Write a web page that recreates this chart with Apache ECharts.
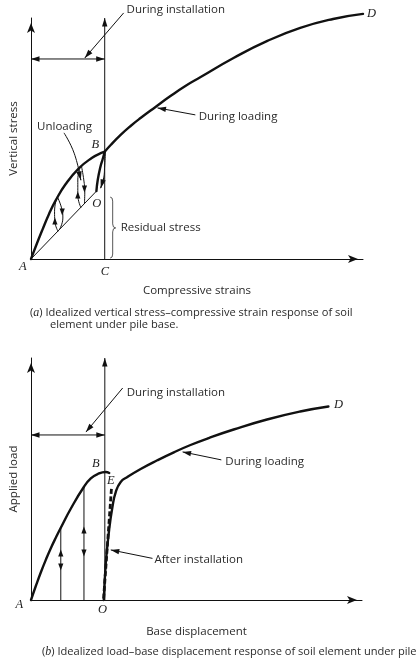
<!DOCTYPE html>
<html>
<head>
<meta charset="utf-8">
<script src="https://cdn.jsdelivr.net/npm/echarts/dist/echarts.min.js"></script>
<style>
  html, body { margin: 0; padding: 0; background: #fff; }
  #chart { width: 416px; height: 663px; }
</style>
</head>
<body>
<div id="chart"></div>
<script>
// ---------- (a) vertical stress vs. compressive strain (strain, stress) ----------
const aInstallCurve = [[0, 0], [1.4, 5.1], [3.4, 12.0], [5.4, 18.6], [7.4, 24.2], [10.4, 31.0],
  [14.4, 37.6], [18.3, 41.9], [21.0, 43.9], [22.2, 44.5]];
const aLoadingCurve = [[22.2, 44.5], [24.0, 47.3], [27.0, 51.5], [30.0, 55.2], [33.0, 58.5], [37.5, 63.1],
  [42.0, 67.6], [46.5, 71.8], [51.1, 75.5], [61.0, 83.4], [71.2, 90.5], [81.1, 95.9], [91.0, 99.6], [100, 101.7]];
const aReloadFromO = [[19.7, 28.2], [20.1, 32.8], [20.9, 38.2], [21.6, 41.5], [22.2, 44.5]];
const aUnloadToO = [[22.4, 44.0], [22.2, 39.0], [21.9, 33.6], [21.0, 29.5]];
const aResidualLine = [[0, 0], [19.6, 28.0]];
const aLoopPaths = [
  [[7.6, 24.7], [7.1, 19.8], [7.2, 15.5], [8.1, 11.6]],
  [[8.0, 25.6], [9.2, 21.2], [9.6, 17.0], [8.6, 12.3]],
  [[14.7, 37.9], [14.1, 32.8], [14.1, 26.6], [15.0, 21.4]],
  [[15.2, 38.5], [15.9, 32.8], [16.2, 27.8], [16.1, 23.0]]
];
// [x, y, direction]  1 = up, -1 = down
const aLoopHeads = [[7.2, 15.8, 1], [9.4, 19.5, -1], [14.1, 26.6, 1], [16.1, 29.0, -1]];
const aUnloadingPointer = [[10.0, 52.2], [13.0, 43.9], [15.0, 32.8]];
// [x1, y1, x2, y2, both ends]
const aArrows = [
  [22.2, 0, 22.2, 100, 0],
  [0, 83.0, 22.2, 83.0, 1],
  [27.9, 102.1, 16.2, 83.4, 0],
  [49.5, 59.8, 38.1, 62.7, 0],
  [14.6, 35.3, 15.0, 32.8, 0],
  [21.9, 33.6, 21.0, 29.5, 0]
];
// residual stress brace: [x, yTop, yBottom, yTip]
const aBrace = [[24.6, 25.7, 0.4, 12.9]];
const aNotes = [
  { text: 'During installation', at: [28.8, 103.3] },
  { text: 'Unloading', at: [10.1, 54.8], align: 'center' },
  { text: 'During loading', at: [50.5, 58.9] },
  { text: 'Residual stress', at: [27.0, 12.9] }
];
const aPoints = [
  { text: 'A', at: [-2.5, -3.2] }, { text: 'B', at: [19.4, 47.3] }, { text: 'C', at: [22.3, -5.3] },
  { text: 'O', at: [19.8, 22.8] }, { text: 'D', at: [102.6, 101.7] }
];

// ---------- (b) applied load vs. base displacement ----------
const bInstallCurve = [[0, 0], [1.51, 5.99], [3.01, 11.57], [4.52, 16.74], [6.02, 21.49], [7.53, 25.83],
  [9.04, 29.96], [12.05, 37.81], [15.96, 46.69], [18.07, 50.21], [20.18, 52.07], [22.59, 52.89], [23.64, 52.48]];
const bLoadingCurve = [[22.0, 0], [22.6, 15.3], [23.6, 28.9], [24.6, 38.4], [25.6, 44.6], [27.1, 48.8],
  [29.13, 50.83], [33.13, 54.13], [38.16, 57.73], [43.16, 61.03], [48.19, 64.05], [53.7, 66.94],
  [61.23, 70.45], [71.3, 74.59], [81.33, 77.89], [89.85, 79.96]];
const bAfterInstall = [[24.3, 45.9], [21.9, 0]];
const bUnloadLines = [[[9.0, 30.0], [9.0, 0]], [[16.0, 46.7], [16.0, 0]]];
const bLineHeads = [[9.0, 19.4, 1], [9.0, 13.6, -1], [16.0, 28.9, 1], [16.0, 19.4, -1]];
const bArrows = [
  [22.3, 0, 22.3, 100, 0],
  [0, 68.2, 22.3, 68.2, 1],
  [27.7, 87.6, 16.6, 69.4, 0],
  [57.5, 57.9, 45.8, 61.2, 0],
  [36.7, 17.2, 24.1, 20.7, 0]
];
const bNotes = [
  { text: 'During installation', at: [28.9, 85.5] },
  { text: 'During loading', at: [58.7, 57.0] },
  { text: 'After installation', at: [37.3, 16.5] }
];
const bPoints = [
  { text: 'A', at: [-3.5, -2.1] }, { text: 'B', at: [19.6, 56.2] }, { text: 'E', at: [24.1, 49.2] },
  { text: 'O', at: [21.6, -4.1] }, { text: 'D', at: [92.9, 80.6] }
];

const axisTitles = {
  a: ['Compressive strains', 'Vertical stress'],
  b: ['Base displacement', 'Applied load']
};
const captions = [
  '({i|a}) Idealized vertical stress\u2013compressive strain response of soil',
  'element under pile base.',
  '({i|b}) Idealized load\u2013base displacement response of soil element under pile'
];

// ---------- drawing helpers ----------
const INK = '#111';
const TEXT = '#2a2a2a';
const SANS = '"Open Sans", "Noto Sans", sans-serif';
const SERIF = '"Liberation Serif", "DejaVu Serif", serif';

function axis(name, isY) {
  return {
    type: 'value', min: 0, max: 100, name: name, nameLocation: 'middle',
    nameGap: isY ? 11 : 26, nameRotate: isY ? 90 : 0,
    nameTextStyle: { fontFamily: SANS, fontSize: 11.5, color: TEXT },
    axisLine: { show: true, symbol: ['none', 'arrow'], symbolSize: [6, 10], symbolOffset: [0, -5],
      lineStyle: { color: INK, width: 1 } },
    axisTick: { show: false }, axisLabel: { show: false }, splitLine: { show: false }
  };
}

function curve(grid, data, width, extra) {
  return Object.assign({
    type: 'line', xAxisIndex: grid, yAxisIndex: grid, data: data,
    symbol: 'none', showSymbol: false, smooth: 0.5, clip: false, silent: true,
    lineStyle: { color: INK, width: width, cap: 'round', join: 'round' }
  }, extra || {});
}

function head(tip, from, len, half) {
  const dx = tip[0] - from[0], dy = tip[1] - from[1];
  const L = Math.hypot(dx, dy) || 1;
  const ux = dx / L, uy = dy / L;
  const bx = tip[0] - ux * len, by = tip[1] - uy * len;
  return { type: 'polygon', shape: { points: [[tip[0], tip[1]], [bx - uy * half, by + ux * half], [bx + uy * half, by - ux * half]] },
    style: { fill: INK } };
}

function arrows(grid, data) {
  return {
    type: 'custom', xAxisIndex: grid, yAxisIndex: grid, silent: true, clip: false, data: data,
    encode: { x: [0, 2], y: [1, 3] },
    renderItem: function (params, api) {
      const a = api.coord([api.value(0), api.value(1)]);
      const b = api.coord([api.value(2), api.value(3)]);
      const kids = [{ type: 'line', shape: { x1: a[0], y1: a[1], x2: b[0], y2: b[1] },
        style: { stroke: INK, lineWidth: 1 } }];
      kids.push(head(b, a, 8.5, 2.7));
      if (api.value(4) === 1) kids.push(head(a, b, 8.5, 2.7));
      return { type: 'group', children: kids };
    }
  };
}

function midHeads(grid, data) {
  return {
    type: 'custom', xAxisIndex: grid, yAxisIndex: grid, silent: true, clip: false, data: data,
    renderItem: function (params, api) {
      const p = api.coord([api.value(0), api.value(1)]);
      const dir = api.value(2);
      const L = 7, H = 2.6;
      const tipY = p[1] - dir * L / 2, baseY = p[1] + dir * L / 2;
      return { type: 'polygon', shape: { points: [[p[0], tipY], [p[0] - H, baseY], [p[0] + H, baseY]] },
        style: { fill: INK } };
    }
  };
}

function labels(grid, items, style) {
  return {
    type: 'custom', xAxisIndex: grid, yAxisIndex: grid, silent: true, clip: false,
    data: items.map(function (t) { return t.at; }),
    renderItem: function (params, api) {
      const p = api.coord([api.value(0), api.value(1)]);
      const t = items[params.dataIndex];
      return { type: 'text', x: p[0], y: p[1],
        style: Object.assign({ text: t.text, align: t.align || 'left', verticalAlign: 'middle', fill: TEXT }, style) };
    }
  };
}

function brace(grid, data) {
  return {
    type: 'custom', xAxisIndex: grid, yAxisIndex: grid, silent: true, clip: false, data: data,
    renderItem: function (params, api) {
      const top = api.coord([api.value(0), api.value(1)]);
      const bot = api.coord([api.value(0), api.value(2)]);
      const tip = api.coord([api.value(0), api.value(3)]);
      const x = top[0], yt = top[1], yb = bot[1], ym = tip[1];
      const d = 'M' + (x - 2.5) + ' ' + yt + ' Q' + x + ' ' + yt + ' ' + x + ' ' + (yt + 4) +
        ' L' + x + ' ' + (ym - 4) + ' Q' + x + ' ' + ym + ' ' + (x + 3) + ' ' + ym +
        ' Q' + x + ' ' + ym + ' ' + x + ' ' + (ym + 4) +
        ' L' + x + ' ' + (yb - 4) + ' Q' + x + ' ' + yb + ' ' + (x - 2.5) + ' ' + yb;
      return { type: 'path', shape: { pathData: d }, style: { stroke: '#444', lineWidth: 0.9, fill: null } };
    }
  };
}

const noteStyle = { fontFamily: SANS, fontSize: 11.5 };
const pointStyle = { fontFamily: SERIF, fontStyle: 'italic', fontSize: 12.5, align: 'center', fill: '#222' };

const series = [
  // panel (a)
  curve(0, aInstallCurve, 2.4),
  curve(0, aLoadingCurve, 2.4),
  curve(0, aReloadFromO, 2.4),
  curve(0, aUnloadToO, 1),
  curve(0, aResidualLine, 1, { smooth: false }),
  curve(0, aUnloadingPointer, 1)
].concat(aLoopPaths.map(function (p) { return curve(0, p, 1); })).concat([
  midHeads(0, aLoopHeads),
  arrows(0, aArrows),
  brace(0, aBrace),
  labels(0, aNotes, noteStyle),
  labels(0, aPoints, pointStyle),
  // panel (b)
  curve(1, bInstallCurve, 2.4),
  curve(1, bLoadingCurve, 2.4),
  curve(1, bAfterInstall, 2.8, { smooth: false, lineStyle: { color: INK, width: 2.8, type: [5, 2.5], cap: 'butt' } })
]).concat(bUnloadLines.map(function (p) { return curve(1, p, 1, { smooth: false }); })).concat([
  midHeads(1, bLineHeads),
  arrows(1, bArrows),
  labels(1, bNotes, noteStyle),
  labels(1, bPoints, pointStyle)
]);

const capRich = { i: { fontFamily: SERIF, fontStyle: 'italic', fontSize: 12 } };
function caption(text, x, y) {
  return { type: 'text', x: x, y: y, silent: true,
    style: { text: text, rich: capRich, fontFamily: SANS, fontSize: 11.1, fill: TEXT, verticalAlign: 'middle' } };
}

const chart = echarts.init(document.getElementById('chart'), null, { renderer: 'canvas' });
chart.setOption({
  animation: false,
  backgroundColor: '#fff',
  grid: [
    { left: 30, top: 18, width: 333, height: 241 },
    { left: 30, top: 358, width: 332, height: 242 }
  ],
  xAxis: [axis(axisTitles.a[0], false), Object.assign(axis(axisTitles.b[0], false), { gridIndex: 1 })],
  yAxis: [axis(axisTitles.a[1], true), Object.assign(axis(axisTitles.b[1], true), { gridIndex: 1 })],
  series: series,
  graphic: [
    caption(captions[0], 30, 313),
    caption(captions[1], 50, 325),
    caption(captions[2], 42, 652)
  ]
});
</script>
</body>
</html>
